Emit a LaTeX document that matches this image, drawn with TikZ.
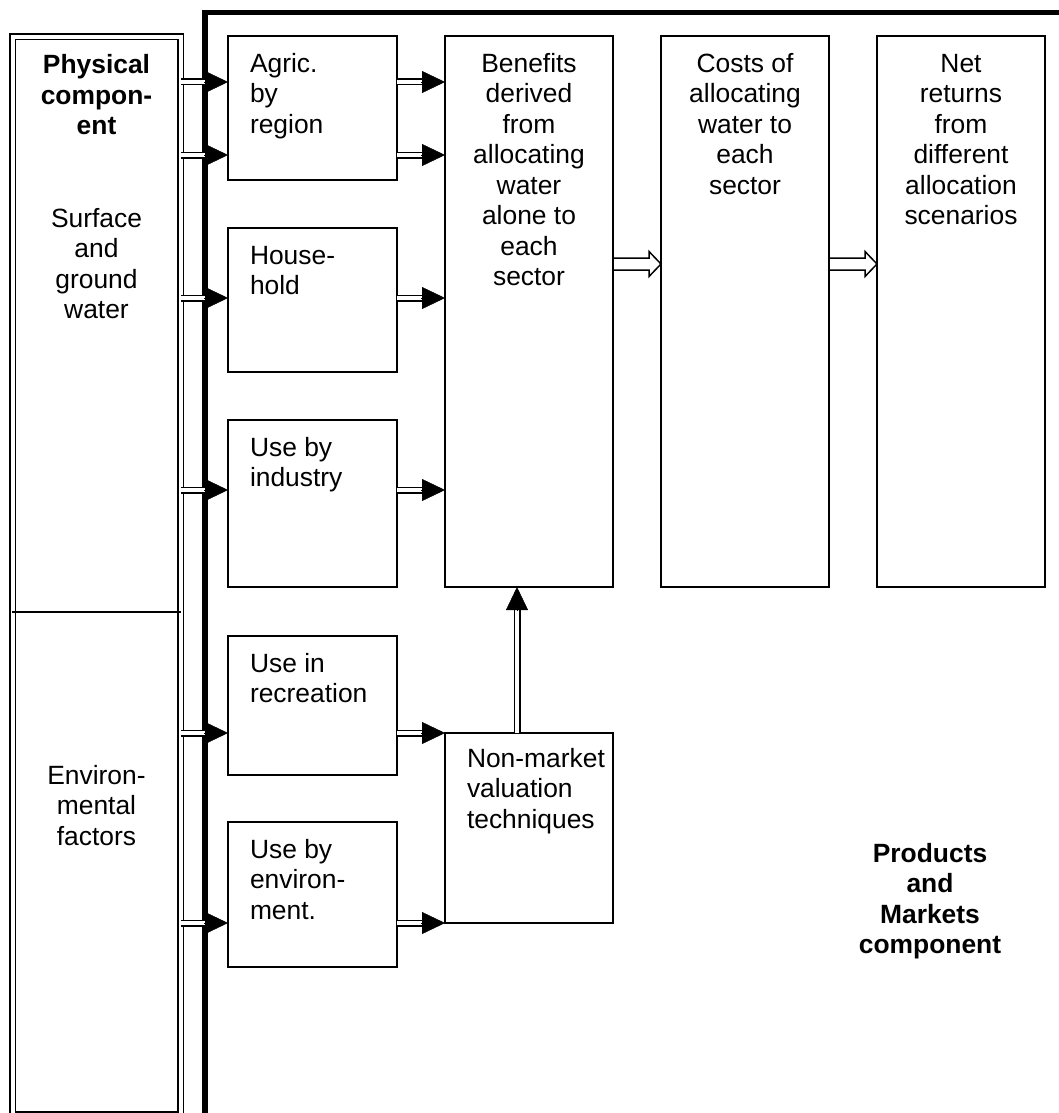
\documentclass[tikz,border=0pt]{standalone}
\usepackage{fontspec}
\setmainfont{Liberation Sans}
\usetikzlibrary{arrows.meta,calc}
\newcommand{\fs}{\rule{0pt}{20pt}}
\newcommand{\dblarrow}[2]{%
  \draw[dshaft] (#1) -- ($(#2)!21pt!(#1)$);
  \draw[dhead] ($(#2)!24pt!(#1)$) -- (#2);
}
\begin{document}
\begin{tikzpicture}[x=1pt,y=-1pt,
  box/.style={draw, line width=1.4pt, rectangle, inner sep=0pt, outer sep=0pt, anchor=north west},
  txt/.style={inner sep=0pt, outer sep=0pt, font=\fontsize{26.4}{30.5}\selectfont},
  ltxt/.style={txt, anchor=north west, align=left},
  ctxt/.style={txt, anchor=north, align=center},
  btxt/.style={txt, anchor=north, align=center, font=\fontsize{26.4}{30.5}\selectfont\bfseries},
  dshaft/.style={draw, double, double distance=3.4pt, line width=1.8pt},
  dhead/.style={line width=0.4pt, -{Triangle[length=23pt,width=22pt]}},
  harrow/.style={draw, line width=1.5pt, line join=miter}
]
\useasboundingbox (0,0) rectangle (1059,1113);
\clip (0,0) rectangle (1059,1113);

% left column (physical component)
\node[draw, double, double distance=3.8pt, line width=1.7pt, rectangle, inner sep=0pt, outer sep=0pt,
      minimum width=168pt, minimum height=1078pt, anchor=north west] (col) at (12.75,36.75) {};
\draw[line width=1.3pt] (12,612) -- (181,612);

% thick frame of products and markets component
\draw[line width=5.5pt] (205,1130) -- (205,12.5) -- (1080,12.5);

% boxes
\node[box, minimum width=169pt, minimum height=144pt] (agric) at (228,36) {};
\node[box, minimum width=169pt, minimum height=144pt] (house) at (228,228) {};
\node[box, minimum width=169pt, minimum height=167pt] (indus) at (228,420) {};
\node[box, minimum width=169pt, minimum height=139pt] (recre) at (228,636) {};
\node[box, minimum width=169pt, minimum height=145pt] (envir) at (228,822) {};
\node[box, minimum width=168pt, minimum height=551pt] (benef) at (445,36) {};
\node[box, minimum width=168pt, minimum height=551pt] (costs) at (661,36) {};
\node[box, minimum width=168pt, minimum height=551pt] (net) at (877,36) {};
\node[box, minimum width=168pt, minimum height=190pt] (nonm) at (445,733) {};

% texts
\node[btxt] (tphys) at (96.5,54) {\fs Physical\\compon-\\ent};
\node[ctxt] (tsurf) at (96.5,207) {\fs Surface\\and\\ground\\water};
\node[ctxt] (tenvf) at (96.5,764) {\fs Environ-\\mental\\factors};
\node[ltxt] (tagric) at (250,52) {\fs Agric.\\by\\region};
\node[ltxt] (thouse) at (250,244) {\fs House-\\hold};
\node[ltxt] (tindus) at (250,436) {\fs Use by\\industry};
\node[ltxt] (trecre) at (250,652) {\fs Use in\\recreation};
\node[ltxt] (tenvir) at (250,838) {\fs Use by\\environ-\\ment.};
\node[ltxt] (tnonm) at (467,747) {\fs Non-market\\valuation\\techniques};
\node[ctxt] (tbenef) at (529,52) {\fs Benefits\\derived\\from\\allocating\\water\\alone to\\each\\sector};
\node[ctxt] (tcosts) at (745,52) {\fs Costs of\\allocating\\water to\\each\\sector};
\node[ctxt] (tnet) at (961,52) {\fs Net\\returns\\from\\different\\allocation\\scenarios};
\node[btxt] (tprod) at (930,842) {\fs Products\\and\\Markets\\component};

% arrow end points
\coordinate (c1) at (col.east |- 0,82);   \coordinate (g1) at (agric.west |- 0,82);
\coordinate (c2) at (col.east |- 0,155);  \coordinate (g2) at (agric.west |- 0,155);
\coordinate (c3) at (col.east |- 0,298);  \coordinate (h3) at (house.west |- 0,298);
\coordinate (c4) at (col.east |- 0,490);  \coordinate (i4) at (indus.west |- 0,490);
\coordinate (c5) at (col.east |- 0,733);  \coordinate (r5) at (recre.west |- 0,733);
\coordinate (c6) at (col.east |- 0,923);  \coordinate (e6) at (envir.west |- 0,923);

\coordinate (g1o) at (agric.east |- 0,82);  \coordinate (b1) at (benef.west |- 0,82);
\coordinate (g2o) at (agric.east |- 0,155); \coordinate (b2) at (benef.west |- 0,155);
\coordinate (h3o) at (house.east |- 0,298); \coordinate (b3) at (benef.west |- 0,298);
\coordinate (i4o) at (indus.east |- 0,490); \coordinate (b4) at (benef.west |- 0,490);
\coordinate (r5o) at (recre.east |- 0,733); \coordinate (n5) at (nonm.north west);
\coordinate (e6o) at (envir.east |- 0,923); \coordinate (n6) at (nonm.south west);

\dblarrow{c1}{g1}
\dblarrow{c2}{g2}
\dblarrow{c3}{h3}
\dblarrow{c4}{i4}
\dblarrow{c5}{r5}
\dblarrow{c6}{e6}
\dblarrow{g1o}{b1}
\dblarrow{g2o}{b2}
\dblarrow{h3o}{b3}
\dblarrow{i4o}{b4}
\dblarrow{r5o}{n5}
\dblarrow{e6o}{n6}

% vertical arrow from non-market to benefits
\coordinate (vs) at (nonm.north -| 517,0);
\coordinate (ve) at (benef.south -| 517,0);
\dblarrow{vs}{ve}

% hollow arrows
\coordinate (hs1) at (benef.east |- 0,264); \coordinate (he1) at (costs.west |- 0,264);
\coordinate (hs2) at (costs.east |- 0,264); \coordinate (he2) at (net.west |- 0,264);
\draw[harrow] ($(hs1)+(0,-6)$) -- ($(he1)+(-12,-6)$) -- ($(he1)+(-12,-12.5)$) -- (he1)
  -- ($(he1)+(-12,12.5)$) -- ($(he1)+(-12,6)$) -- ($(hs1)+(0,6)$);
\draw[harrow] ($(hs2)+(0,-6)$) -- ($(he2)+(-12,-6)$) -- ($(he2)+(-12,-12.5)$) -- (he2)
  -- ($(he2)+(-12,12.5)$) -- ($(he2)+(-12,6)$) -- ($(hs2)+(0,6)$);
\end{tikzpicture}
\end{document}
